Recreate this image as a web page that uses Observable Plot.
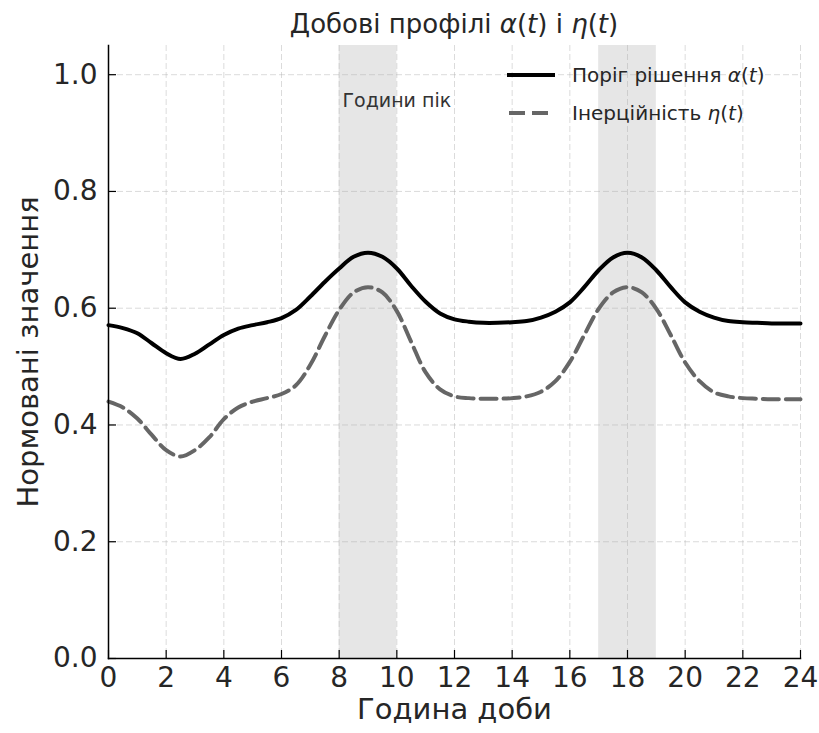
<!DOCTYPE html>
<html><head><meta charset="utf-8">
<script src="https://cdn.jsdelivr.net/npm/d3@7"></script>
<script src="https://cdn.jsdelivr.net/npm/@observablehq/plot@0.6"></script>
<style>
body{margin:0;background:#fff;}
#wrap{position:relative;width:819px;height:733px;font-family:"DejaVu Sans",sans-serif;overflow:hidden;}
#title{height:40px;line-height:48px;margin-left:108px;width:692px;text-align:center;font-size:26px;color:#262626;white-space:nowrap;overflow:visible;}
#legend{position:absolute;left:0;top:0;pointer-events:none;}
</style></head>
<body><div id="wrap">
<div id="title">Добові профілі <i>α</i>(<i>t</i>) і <i>η</i>(<i>t</i>)</div>
<div id="chart"></div>
<svg id="legend" width="819" height="140"></svg>
</div>
<script>
const hours = [0,0.5,1,1.5,2,2.5,3,3.5,4,4.5,5,5.5,6,6.5,7,7.5,8,8.5,9,9.5,10,10.5,11,11.5,12,12.5,13,13.5,14,14.5,15,15.5,16,16.5,17,17.5,18,18.5,19,19.5,20,20.5,21,21.5,22,22.5,23,23.5,24];
const alphaValues = [0.571,0.566,0.557,0.540,0.523,0.513,0.522,0.538,0.554,0.565,0.571,0.576,0.583,0.597,0.620,0.645,0.668,0.688,0.695,0.688,0.668,0.638,0.611,0.591,0.581,0.577,0.575,0.575,0.576,0.578,0.584,0.594,0.610,0.636,0.665,0.687,0.695,0.687,0.665,0.636,0.610,0.594,0.584,0.578,0.576,0.575,0.574,0.574,0.574];
const etaValues = [0.440,0.430,0.411,0.383,0.357,0.346,0.357,0.379,0.410,0.430,0.440,0.446,0.453,0.468,0.503,0.552,0.597,0.627,0.636,0.627,0.595,0.542,0.490,0.461,0.449,0.446,0.445,0.445,0.446,0.449,0.457,0.475,0.508,0.554,0.599,0.627,0.636,0.627,0.599,0.554,0.507,0.475,0.456,0.449,0.446,0.445,0.444,0.444,0.444];
const peakStarts = [8, 17];
const peakEnds = [10, 19];
const peakLabel = [{x: 10, y: 0.955, text: "Години пік"}];
const xTicks = [0,2,4,6,8,10,12,14,16,18,20,22,24];
const yTicks = [0,0.2,0.4,0.6,0.8,1.0];
const seriesNames = ["Поріг рішення", "Інерційність"];

const alphaData = hours.map((h, i) => ({t: h, v: alphaValues[i]}));
const etaData = hours.map((h, i) => ({t: h, v: etaValues[i]}));
const bands = peakStarts.map((s, i) => ({x1: s, x2: peakEnds[i]}));

const W = 819, H = 693, ML = 108, MR = 19, MT = 5, MB = 75;
const pw = W - ML - MR, ph = H - MT - MB;

const chart = Plot.plot({
  width: W, height: H,
  marginLeft: ML, marginRight: MR, marginTop: MT, marginBottom: MB,
  style: {fontFamily: "DejaVu Sans, sans-serif", color: "#262626", background: "white"},
  x: {domain: [0, 24]},
  y: {domain: [0, 1.05]},
  marks: [
    Plot.rectX(bands, {x1: "x1", x2: "x2", y1: 0, y2: 1.05, fill: "#808080", fillOpacity: 0.2}),
    Plot.gridX(xTicks, {stroke: "#b0b0b0", strokeOpacity: 0.45, strokeDasharray: "6,3", strokeWidth: 1}),
    Plot.gridY(yTicks, {stroke: "#b0b0b0", strokeOpacity: 0.45, strokeDasharray: "6,3", strokeWidth: 1}),
    Plot.text(peakLabel, {x: "x", y: "y", text: "text", fontSize: 19, fill: "#333", textAnchor: "middle"}),
    Plot.line(etaData, {x: "t", y: "v", stroke: "#666666", strokeWidth: 4, strokeDasharray: "16,7", curve: "catmull-rom"}),
    Plot.line(alphaData, {x: "t", y: "v", stroke: "black", strokeWidth: 4, curve: "catmull-rom"}),
    Plot.axisX({ticks: xTicks, tickSize: 0, tickPadding: 9, fontSize: 28, label: null}),
    Plot.axisY({ticks: yTicks, tickSize: 0, tickPadding: 11, fontSize: 28, tickFormat: d3.format(".1f"), label: null}),
    Plot.tickX(xTicks, {x: d => d, insetTop: ph - 8, stroke: "black", strokeWidth: 1.2}),
    Plot.tickY(yTicks, {y: d => d, insetRight: pw - 8, stroke: "black", strokeWidth: 1.2}),
    Plot.frame({anchor: "left", stroke: "black", strokeWidth: 1.5}),
    Plot.frame({anchor: "bottom", stroke: "black", strokeWidth: 1.5}),
    Plot.text(["Година доби"], {frameAnchor: "bottom", dy: 60, fontSize: 29, fill: "#262626"}),
    Plot.text(["Нормовані значення"], {frameAnchor: "left", textAnchor: "middle", dx: -80, rotate: -90, fontSize: 29, fill: "#262626"})
  ]
});
document.getElementById("chart").appendChild(chart);

// Legend
const leg = d3.select("#legend");
const rows = [
  {name: seriesNames[0], sym: "α", y: 75, stroke: "black", dash: null, x1: 507, x2: 555},
  {name: seriesNames[1], sym: "η", y: 113, stroke: "#666666", dash: "16,7", x1: 509, x2: 553}
];
rows.forEach(r => {
  leg.append("line").attr("x1", r.x1).attr("x2", r.x2).attr("y1", r.y).attr("y2", r.y)
    .attr("stroke", r.stroke).attr("stroke-width", 4).attr("stroke-dasharray", r.dash);
  const t = leg.append("text").attr("x", 572).attr("y", r.y).attr("dy", "0.35em")
    .attr("font-family", "DejaVu Sans, sans-serif").attr("font-size", 20).attr("fill", "#262626");
  t.append("tspan").text(r.name + " ");
  t.append("tspan").attr("font-style", "italic").text(r.sym);
  t.append("tspan").text("(");
  t.append("tspan").attr("font-style", "italic").text("t");
  t.append("tspan").text(")");
});
</script>
</body></html>
